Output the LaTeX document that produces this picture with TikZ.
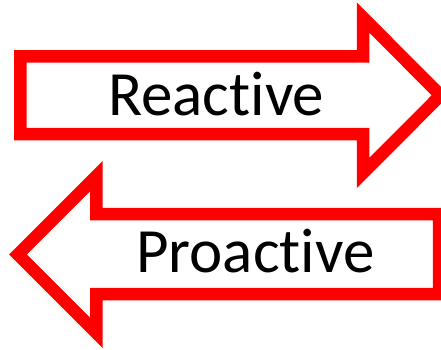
\documentclass[tikz,border=0pt]{standalone}
\usepackage{fontspec}
\setmainfont{Carlito}[Ligatures={NoCommon,TeX}]
\definecolor{arrowred}{RGB}{255,0,0}
\usetikzlibrary{positioning}

\begin{document}
\begin{tikzpicture}[x=1pt,y=-1pt,
  blockarrow/.style={draw=arrowred,line width=12.5pt,fill=white,line join=miter},
  arrowtext/.style={anchor=base,inner sep=0pt,font=\fontsize{63}{70}\selectfont}]
  \useasboundingbox (0,0) rectangle (441,350);
  % right-pointing arrow
  \draw[blockarrow] (20.3,56.3) -- (363,56.3) -- (363,17.5) -- (440.5,95.3)
    -- (363,173.1) -- (363,134.2) -- (20.3,134.2) -- cycle;
  % left-pointing arrow
  \draw[blockarrow] (439,214) -- (96.3,214) -- (96.3,176.2) -- (18,254.5)
    -- (96.3,332.8) -- (96.3,294) -- (439,294) -- cycle;
  \node[arrowtext] (reactive) at (216.2,115) {Reactive};
  \node[arrowtext] (proactive) at (255.3,272) {Proactive};
\end{tikzpicture}
\end{document}
